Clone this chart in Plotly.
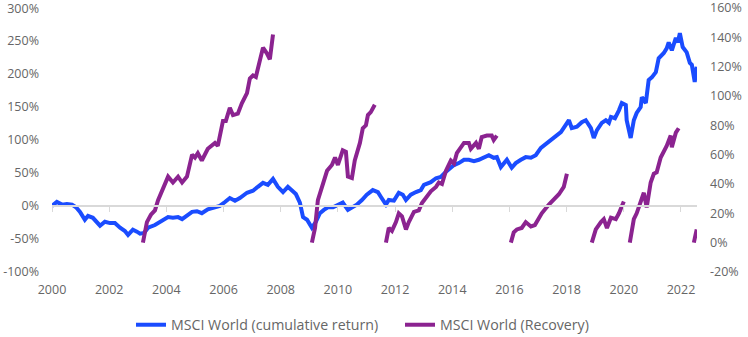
import plotly.graph_objects as go

# MSCI World cumulative return (left axis, %)
cum_years = [2000.00, 2000.17, 2000.35, 2000.52, 2000.70, 2000.84, 2000.98, 2001.15, 2001.26, 2001.43,
             2001.68, 2001.85, 2002.03, 2002.20, 2002.38, 2002.55, 2002.66, 2002.83, 2002.97, 2003.08,
             2003.22, 2003.36, 2003.60, 2003.85, 2004.06, 2004.23, 2004.41, 2004.55, 2004.76, 2004.90,
             2005.07, 2005.24, 2005.45, 2005.70, 2005.87, 2006.05, 2006.22, 2006.40, 2006.57, 2006.82,
             2007.03, 2007.20, 2007.38, 2007.55, 2007.73, 2007.90, 2008.08, 2008.25, 2008.39, 2008.53,
             2008.67, 2008.78, 2008.92, 2009.09, 2009.23, 2009.37, 2009.51, 2009.65, 2009.83, 2010.00,
             2010.17, 2010.35, 2010.49, 2010.66, 2010.84, 2011.01, 2011.22, 2011.40, 2011.50, 2011.68,
             2011.78, 2011.96, 2012.13, 2012.27, 2012.38, 2012.55, 2012.73, 2012.90, 2013.01, 2013.25,
             2013.43, 2013.60, 2013.78, 2013.95, 2014.06, 2014.23, 2014.41, 2014.58, 2014.76, 2014.93,
             2015.10, 2015.28, 2015.45, 2015.56, 2015.70, 2015.80, 2015.91, 2016.08, 2016.22, 2016.40,
             2016.57, 2016.75, 2016.92, 2017.10, 2017.31, 2017.55, 2017.80, 2017.97, 2018.08, 2018.18,
             2018.36, 2018.53, 2018.67, 2018.85, 2018.95, 2019.06, 2019.23, 2019.37, 2019.48, 2019.55,
             2019.69, 2019.83, 2019.93, 2020.07, 2020.10, 2020.24, 2020.35, 2020.45, 2020.59, 2020.63,
             2020.77, 2020.87, 2020.98, 2021.12, 2021.22, 2021.40, 2021.50, 2021.57, 2021.68, 2021.82,
             2021.89, 2021.96, 2022.06, 2022.20, 2022.31, 2022.38, 2022.48, 2022.55]
cum_values = [0, 6, 2, 3, 2, -2, -9, -21, -15, -18,
              -30, -24, -26, -26, -33, -38, -44, -36, -39, -42,
              -41, -33, -29, -23, -17, -18, -17, -20, -14, -9,
              -8, -11, -5, -2, 0, 6, 12, 8, 12, 20,
              23, 29, 35, 32, 41, 29, 21, 29, 24, 18,
              5, -17, -21, -33, -24, -11, -6, -2, -2, 2,
              5, -6, -2, 2, 9, 17, 24, 21, 14, 2,
              9, 8, 20, 17, 9, 17, 21, 24, 32, 36,
              42, 44, 52, 58, 62, 65, 70, 70, 68, 70,
              74, 77, 73, 74, 59, 65, 70, 58, 65, 70,
              74, 73, 77, 88, 95, 103, 112, 123, 130, 118,
              120, 127, 130, 118, 103, 115, 126, 130, 126, 135,
              133, 145, 156, 153, 130, 103, 130, 141, 150, 165,
              156, 191, 195, 203, 224, 232, 239, 248, 236, 255,
              248, 262, 241, 233, 217, 214, 188, 211]

# MSCI World recovery segments (right axis, %)
rec_years_1 = [2003.18, 2003.32, 2003.46, 2003.60, 2003.71, 2003.85, 2003.95, 2004.06, 2004.23, 2004.41,
               2004.55, 2004.72, 2004.90, 2005.00, 2005.10, 2005.24, 2005.45, 2005.59, 2005.70, 2005.80,
               2005.87, 2005.98, 2006.08, 2006.22, 2006.33, 2006.50, 2006.64, 2006.82, 2006.92, 2007.03,
               2007.13, 2007.27, 2007.38, 2007.52, 2007.62, 2007.73]
rec_values_1 = [0, 14, 19, 22, 29, 36, 41, 45, 41, 45,
                41, 45, 60, 58, 61, 56, 64, 66, 68, 66,
                73, 83, 83, 92, 87, 88, 95, 102, 112, 114,
                113, 126, 133, 129, 125, 142]
rec_years_2 = [2009.09, 2009.20, 2009.30, 2009.44, 2009.62, 2009.79, 2009.90, 2010.00, 2010.17, 2010.28,
               2010.35, 2010.49, 2010.59, 2010.77, 2010.87, 2010.98, 2011.05, 2011.15, 2011.29]
rec_values_2 = [0, 10, 29, 37, 49, 53, 58, 53, 63, 62,
                45, 44, 56, 68, 78, 80, 87, 89, 94]
rec_years_3 = [2011.68, 2011.78, 2011.89, 2012.03, 2012.13, 2012.24, 2012.38, 2012.48, 2012.66, 2012.83,
               2012.94, 2013.08, 2013.25, 2013.43, 2013.53, 2013.64, 2013.78, 2013.95, 2014.06, 2014.16,
               2014.41, 2014.58, 2014.65, 2014.83, 2014.93, 2015.03, 2015.21, 2015.38, 2015.45, 2015.56]
rec_values_3 = [0, 10, 8, 14, 20, 18, 9, 14, 21, 22,
                27, 31, 35, 38, 41, 40, 49, 56, 54, 61,
                68, 68, 64, 68, 64, 72, 73, 73, 70, 73]
rec_years_4 = [2016.05, 2016.15, 2016.26, 2016.43, 2016.57, 2016.75, 2016.89, 2017.03, 2017.13, 2017.38,
               2017.55, 2017.73, 2017.90, 2018.01]
rec_values_4 = [0, 7, 9, 10, 14, 11, 12, 17, 20, 26,
                29, 33, 38, 47]
rec_years_5 = [2018.88, 2019.02, 2019.20, 2019.30, 2019.41, 2019.55, 2019.72, 2019.83, 2020.00]
rec_values_5 = [0, 9, 14, 16, 10, 17, 16, 20, 28]
rec_years_6 = [2020.21, 2020.35, 2020.45, 2020.59, 2020.70, 2020.80, 2020.94, 2021.05, 2021.15, 2021.29,
               2021.40, 2021.50, 2021.64, 2021.68, 2021.82, 2021.92]
rec_values_6 = [0, 16, 20, 29, 34, 24, 41, 47, 48, 58,
                62, 66, 73, 65, 75, 78]
rec_years_7 = [2022.45, 2022.55]
rec_values_7 = [0, 9]

x_ticks = [2000, 2002, 2004, 2006, 2008, 2010, 2012, 2014, 2016, 2018, 2020, 2022]
left_ticks = [-100, -50, 0, 50, 100, 150, 200, 250, 300]
right_ticks = [-20, 0, 20, 40, 60, 80, 100, 120, 140, 160]

BLUE = "#1a4cff"
PURPLE = "#8b2390"
TEXT = "#666666"
GRID = "#d9d9d9"

segments = [(rec_years_1, rec_values_1), (rec_years_2, rec_values_2), (rec_years_3, rec_values_3),
            (rec_years_4, rec_values_4), (rec_years_5, rec_values_5), (rec_years_6, rec_values_6),
            (rec_years_7, rec_values_7)]
rec_x, rec_y = [], []
for xs, ys in segments:
    rec_x += xs + [None]
    rec_y += ys + [None]

fig = go.Figure()
fig.add_trace(go.Scatter(x=cum_years, y=cum_values, mode="lines",
                         name="MSCI World (cumulative return)",
                         line=dict(color=BLUE, width=4), xaxis="x", yaxis="y"))
fig.add_trace(go.Scatter(x=rec_x, y=rec_y, mode="lines", connectgaps=False,
                         name="MSCI World (Recovery)",
                         line=dict(color=PURPLE, width=4), xaxis="x2", yaxis="y2"))

xr = [2000, 2022.56]
fig.update_layout(
    width=748, height=337,
    margin=dict(l=52, r=51, t=8, b=65, autoexpand=False),
    paper_bgcolor="white", plot_bgcolor="white",
    font=dict(family="Open Sans", size=12.5, color=TEXT),
    showlegend=True,
    legend=dict(orientation="h", x=131 / 748, xanchor="left", xref="container",
                y=(337 - 325) / 337, yanchor="middle", yref="container",
                font=dict(size=14.2, color=TEXT), itemwidth=30, tracegroupgap=0,
                entrywidth=224, entrywidthmode="pixels"),
    xaxis=dict(range=xr, tickvals=x_ticks, ticktext=[str(t) for t in x_ticks],
               showgrid=False, zeroline=False, showline=False, ticks="",
               tickfont=dict(size=12.5, color=TEXT), ticklabelstandoff=8),
    xaxis2=dict(range=xr, overlaying="x", anchor="free", position=0.25, side="bottom",
                tickvals=x_ticks, showticklabels=False, showgrid=False, zeroline=False,
                showline=True, linecolor=GRID, linewidth=2,
                ticks="outside", ticklen=5, tickcolor=GRID, tickwidth=1),
    yaxis=dict(range=[-100.2, 300.2], tickvals=left_ticks,
               ticktext=[f"{v}%" for v in left_ticks],
               showgrid=False, zeroline=False, showline=False, ticklabeloverflow="allow",
               tickfont=dict(size=12.5, color=TEXT), ticklabelstandoff=12),
    yaxis2=dict(range=[-20.04, 160.04], tickvals=right_ticks,
                ticktext=[f"{v}%" for v in right_ticks],
                overlaying="y", side="right", anchor="x",
                showgrid=False, zeroline=False, showline=False, ticklabeloverflow="allow",
                tickfont=dict(size=12.5, color=TEXT), ticklabelstandoff=12),
)

fig.write_html("out.html")
